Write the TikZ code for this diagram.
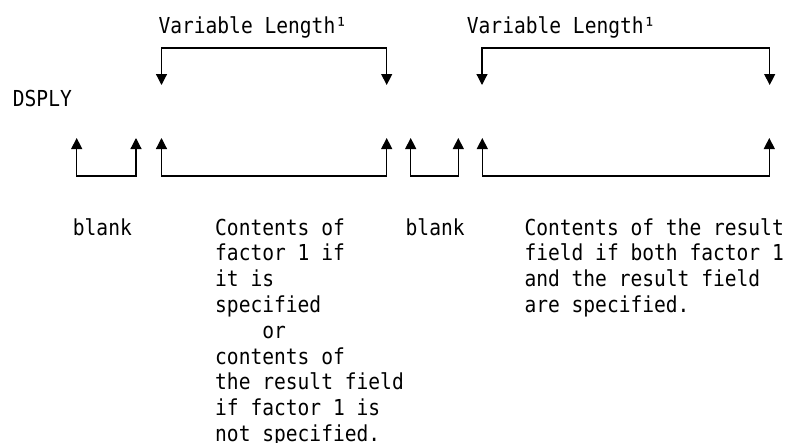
\documentclass[tikz,border=0pt]{standalone}
\usepackage{fontspec}
\usetikzlibrary{arrows.meta}
\newfontfamily\ibmmono[FakeStretch=0.89]{DejaVu Sans Mono}
% a left-aligned block of lines whose baseline is that of its first line
\newcommand\textlines[1]{\vtop{\halign{##\hfil\cr#1\crcr}}}
\tikzset{
  lbl/.style={anchor=base west, inner sep=0pt,
    font=\ibmmono\fontsize{22pt}{25.8pt}\selectfont},
  bracket/.style={line width=1.2pt,
    {Triangle[width=11pt,length=11pt]}-{Triangle[width=11pt,length=11pt]}}
}
\begin{document}
\begin{tikzpicture}[x=1pt,y=-1pt]
\useasboundingbox (0,0) rectangle (790,442);

% labels
\node[lbl] (vl1) at (158.3,33.3) {Variable Length¹};
\node[lbl] (vl2) at (466.7,33.3) {Variable Length¹};
\node[lbl] (op)  at (12.7,106) {DSPLY};
\node[lbl] (b1)  at (72.7,235) {blank};
\node[lbl] (c1)  at (215,235) {\textlines{Contents of\cr factor 1 if\cr it is\cr specified\cr \hphantom{xxxx}or\cr contents of\cr the result field\cr if factor 1 is\cr not specified.}};
\node[lbl] (b2)  at (405.5,235) {blank};
\node[lbl] (c2)  at (524.3,235) {\textlines{Contents of the result\cr field if both factor 1\cr and the result field\cr are specified.}};

% upper brackets (variable length fields)
\coordinate (t1a) at (161.5,85);  \coordinate (t1b) at (386.7,85);
\coordinate (t2a) at (482,85);    \coordinate (t2b) at (769.7,85);
\draw[bracket] (t1a) -- ++(0,-37) -| (t1b);
\draw[bracket] (t2a) -- ++(0,-37) -| (t2b);

% lower brackets (result layout)
\coordinate (u1a) at (76.7,138);  \coordinate (u1b) at (136,138);
\coordinate (u2a) at (161.5,138); \coordinate (u2b) at (386.7,138);
\coordinate (u3a) at (410.7,138); \coordinate (u3b) at (458.3,138);
\coordinate (u4a) at (482.3,138); \coordinate (u4b) at (769.3,138);
\draw[bracket] (u1a) -- ++(0,38) -| (u1b);
\draw[bracket] (u2a) -- ++(0,38) -| (u2b);
\draw[bracket] (u3a) -- ++(0,38) -| (u3b);
\draw[bracket] (u4a) -- ++(0,38) -| (u4b);
\end{tikzpicture}
\end{document}
